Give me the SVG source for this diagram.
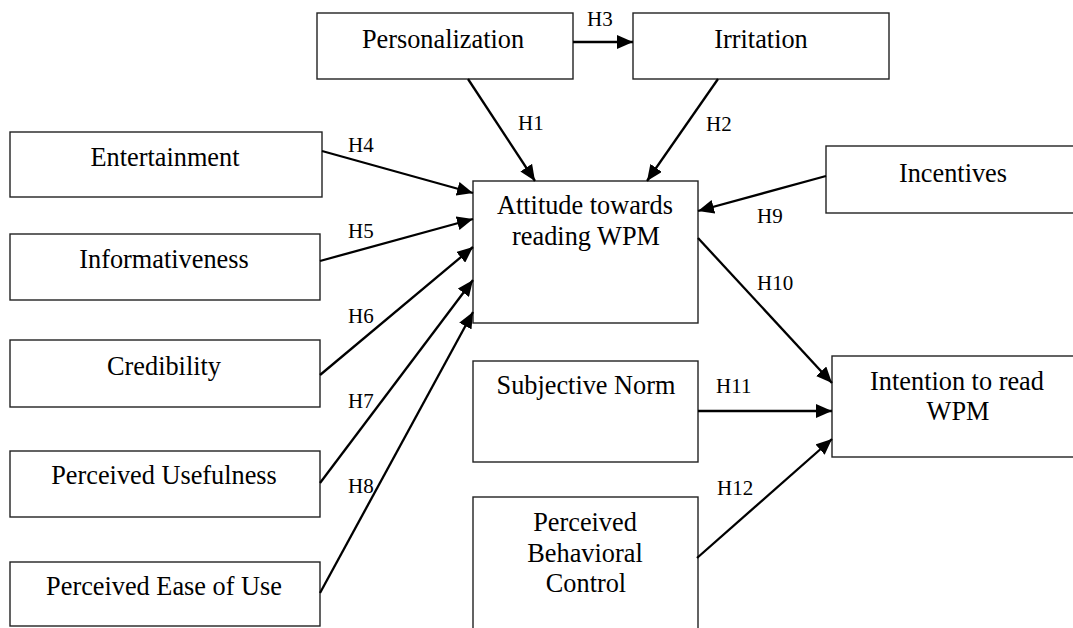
<svg xmlns="http://www.w3.org/2000/svg" width="1073" height="628" viewBox="0 0 1073 628">
<style>
.box{fill:#fff;stroke:#222;stroke-width:1.4}
.t{font-family:"Liberation Serif","Times New Roman",serif;font-size:26.3px;fill:#000;text-anchor:middle}
.h{font-family:"Liberation Serif","Times New Roman",serif;font-size:21px;fill:#000}
.c{stroke:#000;stroke-width:2.3;fill:none;marker-end:url(#ah)}
</style>
<defs>
<marker id="ah" markerUnits="userSpaceOnUse" markerWidth="16" markerHeight="14" refX="16" refY="7" orient="auto">
<path d="M0,0 L16,7 L0,14 Z" fill="#000"/>
</marker>
</defs>
<rect width="1073" height="628" fill="#fff"/>
<g id="personalization"><rect class="box" x="317" y="13" width="256" height="66"/><text class="t" x="443" y="48">Personalization</text></g>
<g id="irritation"><rect class="box" x="633" y="13" width="256" height="66"/><text class="t" x="761" y="48">Irritation</text></g>
<g id="entertainment"><rect class="box" x="10" y="132" width="312" height="65"/><text class="t" x="165" y="166">Entertainment</text></g>
<g id="informativeness"><rect class="box" x="10" y="234" width="310" height="66"/><text class="t" x="164" y="268">Informativeness</text></g>
<g id="credibility"><rect class="box" x="10" y="340" width="310" height="67"/><text class="t" x="164" y="375">Credibility</text></g>
<g id="usefulness"><rect class="box" x="10" y="451" width="310" height="66"/><text class="t" x="164" y="484">Perceived Usefulness</text></g>
<g id="ease"><rect class="box" x="10" y="562" width="310" height="64"/><text class="t" x="164" y="595">Perceived Ease of Use</text></g>
<g id="attitude"><rect class="box" x="473" y="181" width="225" height="142"/><text class="t" x="585" y="214">Attitude towards</text><text class="t" x="586" y="245">reading WPM</text></g>
<g id="incentives"><rect class="box" x="826" y="146" width="260" height="67"/><text class="t" x="953" y="182">Incentives</text></g>
<g id="subjective"><rect class="box" x="473" y="361" width="225" height="101"/><text class="t" x="586" y="394">Subjective Norm</text></g>
<g id="intention"><rect class="box" x="832" y="356" width="260" height="101"/><text class="t" x="957" y="390">Intention to read</text><text class="t" x="958" y="420">WPM</text></g>
<g id="pbc"><rect class="box" x="473" y="497" width="225" height="150"/><text class="t" x="585" y="531">Perceived</text><text class="t" x="585" y="562">Behavioral</text><text class="t" x="586" y="592">Control</text></g>
<g id="connectors">
<line class="c" x1="573" y1="42" x2="633" y2="42"/>
<line class="c" x1="468" y1="79" x2="535" y2="181"/>
<line class="c" x1="718" y1="79" x2="647" y2="181"/>
<line class="c" x1="322" y1="151" x2="473" y2="193"/>
<line class="c" x1="320" y1="261" x2="473" y2="219"/>
<line class="c" x1="320" y1="375" x2="473" y2="247"/>
<line class="c" x1="320" y1="483" x2="473" y2="280"/>
<line class="c" x1="320" y1="593" x2="473" y2="312"/>
<line class="c" x1="826" y1="176" x2="698" y2="211"/>
<line class="c" x1="698" y1="238" x2="832" y2="383"/>
<line class="c" x1="698" y1="411" x2="832" y2="411"/>
<line class="c" x1="697" y1="558" x2="832" y2="439"/>
<text class="h" x="587" y="26">H3</text>
<text class="h" x="518" y="130">H1</text>
<text class="h" x="706" y="131">H2</text>
<text class="h" x="348" y="152">H4</text>
<text class="h" x="348" y="238">H5</text>
<text class="h" x="348" y="323">H6</text>
<text class="h" x="348" y="408">H7</text>
<text class="h" x="348" y="493">H8</text>
<text class="h" x="757" y="223">H9</text>
<text class="h" x="757" y="290">H10</text>
<text class="h" x="716" y="393">H11</text>
<text class="h" x="717" y="495">H12</text>
</g>
</svg>
